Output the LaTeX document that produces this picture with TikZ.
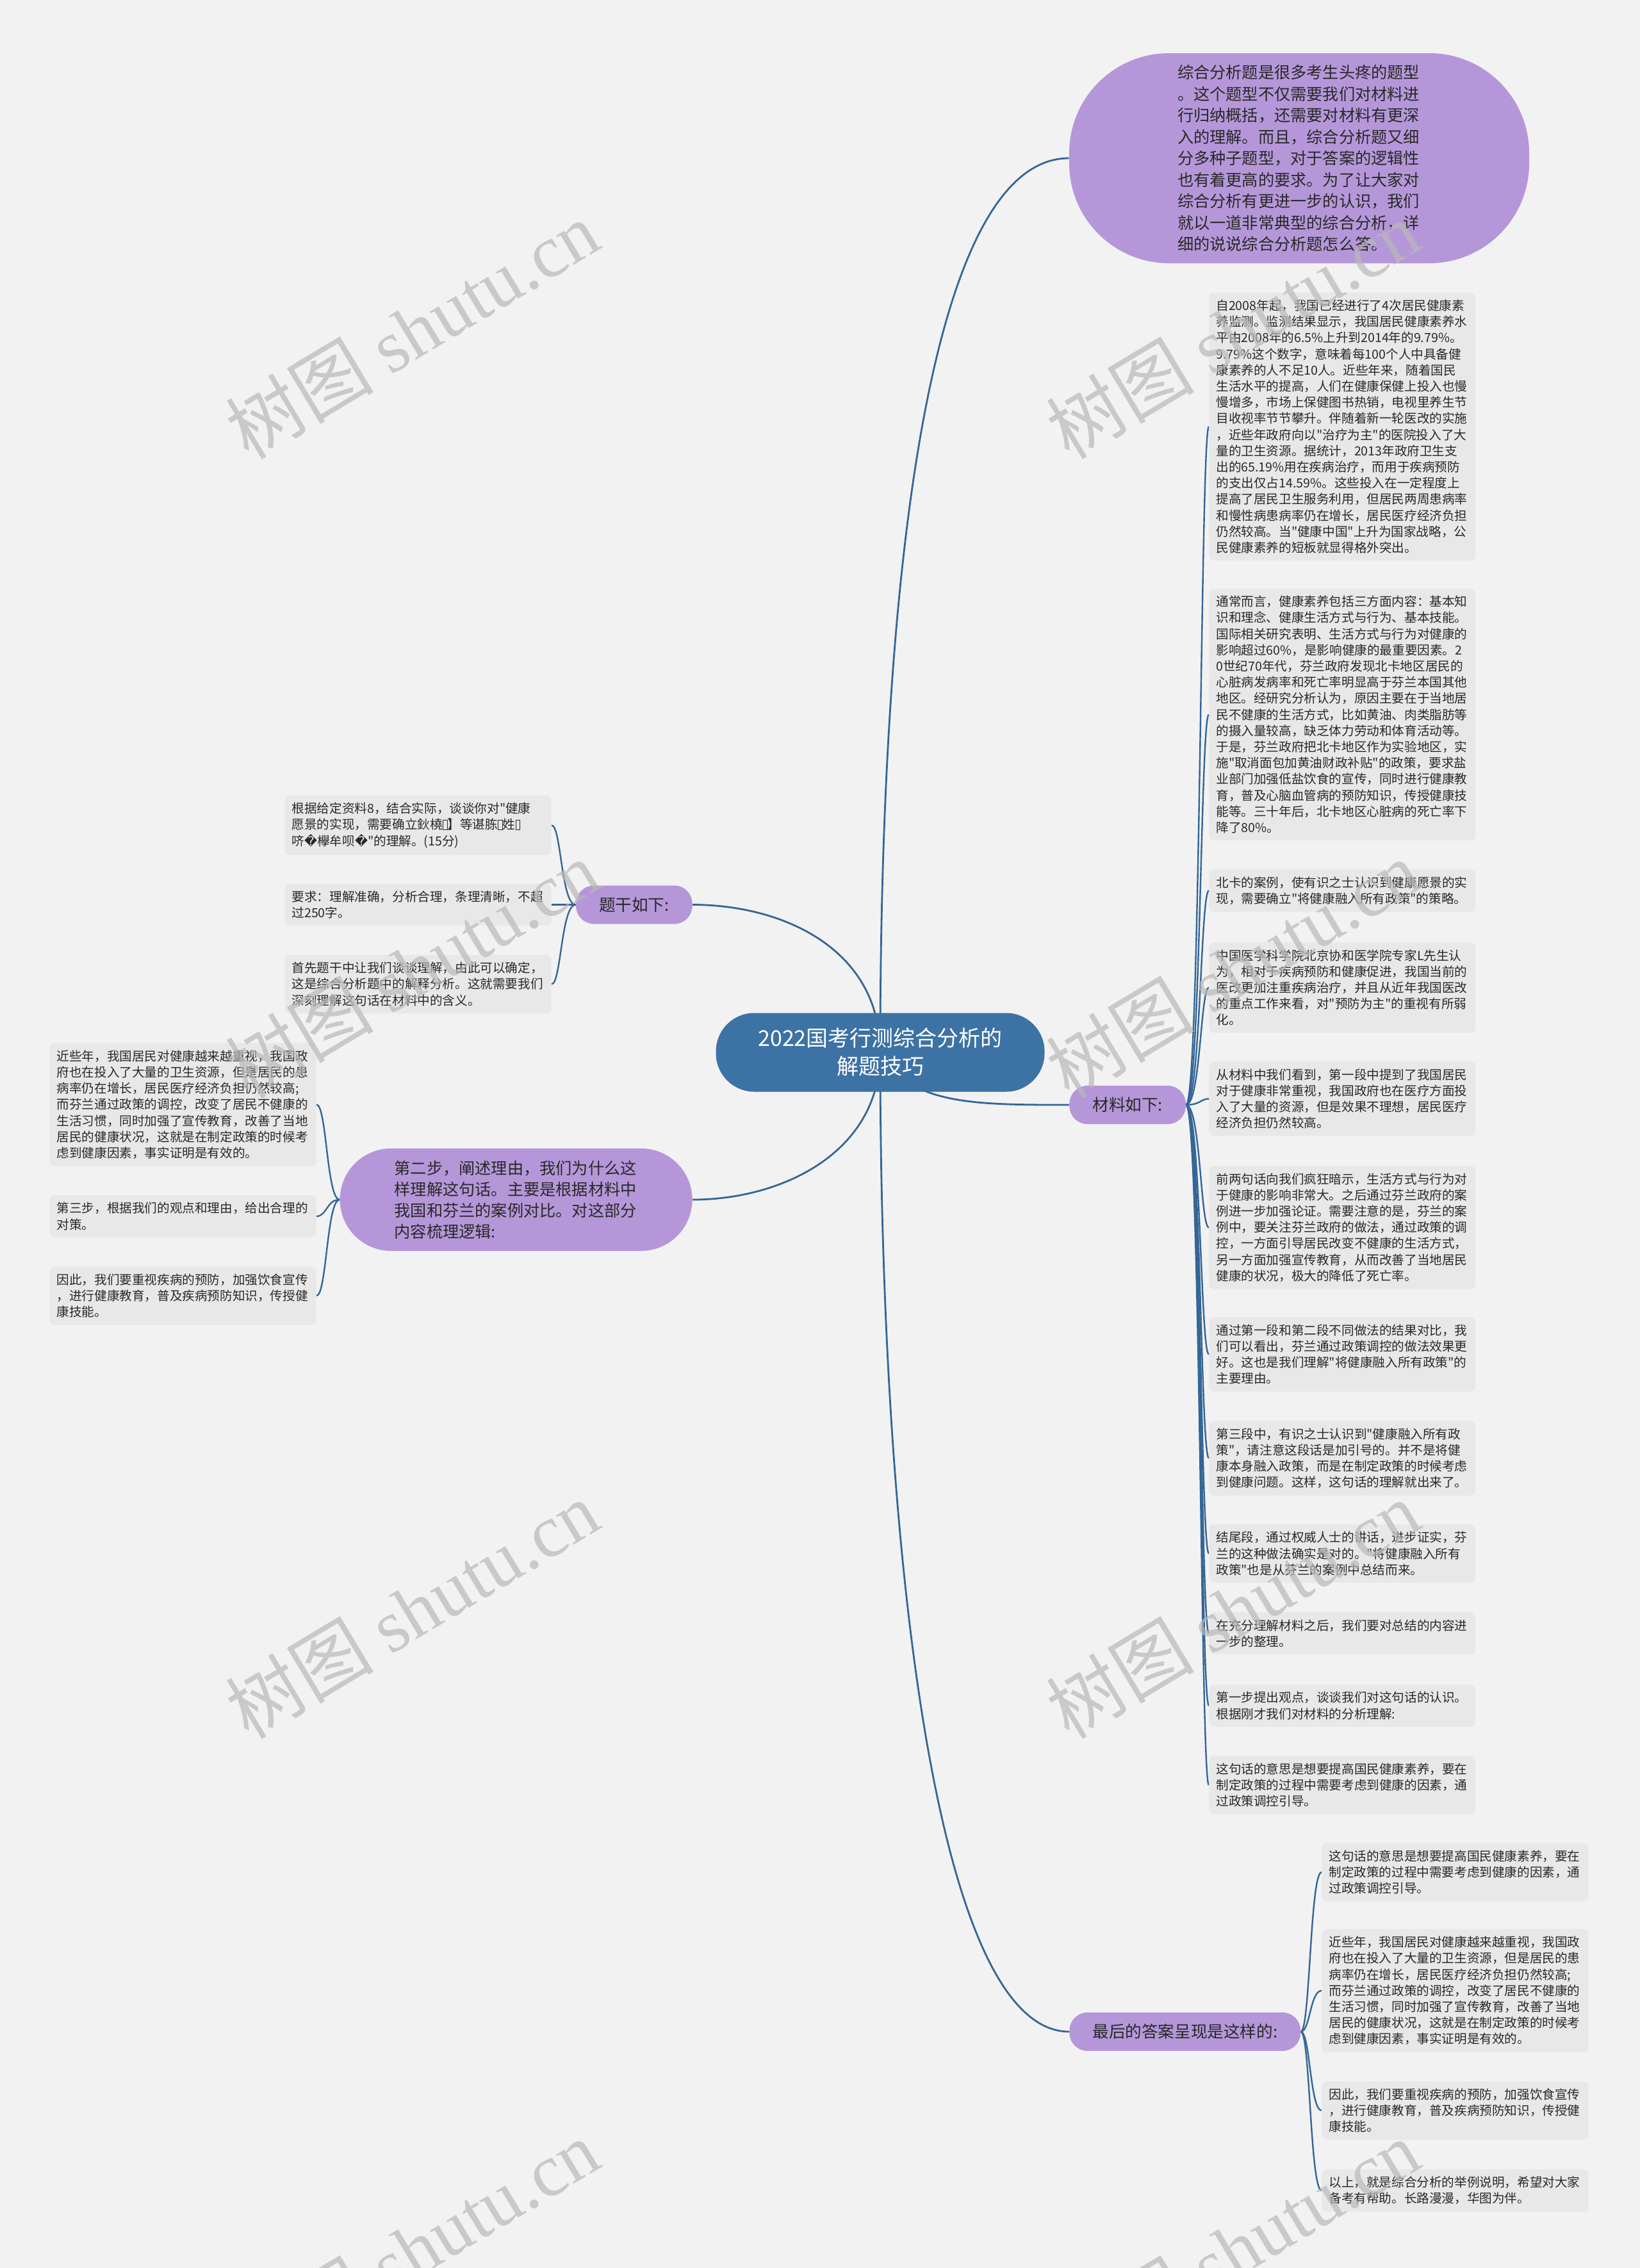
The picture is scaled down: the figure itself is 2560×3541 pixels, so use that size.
\documentclass[tikz,border=0pt]{standalone}
\usepackage{fontspec}
\setmainfont{Noto Sans CJK SC}[Ligatures=TeXOff]
\newfontfamily\wmserif{Liberation Serif}
\newfontfamily\symfont{DejaVu Sans}
\usetikzlibrary{backgrounds}
\definecolor{xBlue}{RGB}{61,114,164}
\definecolor{xLine}{RGB}{52,102,150}
\definecolor{xLav}{RGB}{181,151,217}
\definecolor{xLeaf}{RGB}{232,232,232}
\definecolor{xPage}{RGB}{242,242,242}
\definecolor{xInk}{RGB}{40,40,40}
\definecolor{xMark}{RGB}{185,185,185}
\newcommand{\nochar}{\begingroup\setlength{\fboxsep}{0pt}\setlength{\fboxrule}{0.5pt}\fbox{\rule{0pt}{0.72em}\hspace{0.3em}}\endgroup}
\newcommand{\badchar}{{\symfont �}}
\tikzset{
  rootnode/.style={fill=xBlue, text=white, rounded corners=30pt, align=center, font=\fontsize{17pt}{22pt}\selectfont,
                   minimum width=256.5pt, minimum height=61.5pt},
  bubble/.style={fill=xLav, text=xInk, rounded corners=78pt, align=left, text width=190pt, inner xsep=84.5pt,
                 minimum height=164pt, font=\fontsize{12.6pt}{16.75pt}\selectfont},
  topic/.style={fill=xLav, text=xInk, rounded corners=14pt, font=\fontsize{12.8pt}{15pt}\selectfont,
                inner xsep=18pt, minimum height=30pt},
  bigtopic/.style={topic, align=left, text width=190pt, inner xsep=42.5pt, minimum height=80pt, rounded corners=40pt,
                   font=\fontsize{12.6pt}{16.5pt}\selectfont},
  leaf/.style={fill=xLeaf, text=xInk, rounded corners=4pt, align=left, text width=197pt, inner xsep=5.5pt,
               inner ysep=5.6pt, font=\fontsize{9.8pt}{12.6pt}\selectfont},
  trunk/.style={xLine, line width=1.4pt},
  twig/.style={xLine, line width=1.2pt},
  wmark/.style={text=xMark, opacity=0.7, rotate=31, font=\fontsize{58pt}{60pt}\selectfont},
}
\begin{document}
\begin{tikzpicture}[x=0.5pt, y=-0.5pt]
  \useasboundingbox (0,0) rectangle (2560,3541);
  % main topics
  \node[rootnode] (root) at (1374,1643) {2022国考行测综合分析的\\解题技巧};
  \node[bubble] (intro) at (2028,247) {综合分析题是很多考生头疼的题型\\。这个题型不仅需要我们对材料进\\行归纳概括，还需要对材料有更深\\入的理解。而且，综合分析题又细\\分多种子题型，对于答案的逻辑性\\也有着更高的要求。为了让大家对\\综合分析有更进一步的认识，我们\\就以一道非常典型的综合分析，详\\细的说说综合分析题怎么答。};
  \node[topic, anchor=east] (tigan) at (1081,1412.5) {题干如下:};
  \node[topic, anchor=west] (cailiao) at (1669,1725) {材料如下:};
  \node[bigtopic, anchor=east] (step2) at (1081,1873) {第二步，阐述理由，我们为什么这\\样理解这句话。主要是根据材料中\\我国和芬兰的案例对比。对这部分\\内容梳理逻辑:};
  \node[topic, anchor=west] (final) at (1669,3172) {最后的答案呈现是这样的:};

  % 材料如下
  \node[leaf, anchor=west] (c1) at (1887,666) {自2008年起，我国已经进行了4次居民健康素\\养监测。监测结果显示，我国居民健康素养水\\平由2008年的6.5\%上升到2014年的9.79\%。\\9.79\%这个数字，意味着每100个人中具备健\\康素养的人不足10人。近些年来，随着国民\\生活水平的提高，人们在健康保健上投入也慢\\慢增多，市场上保健图书热销，电视里养生节\\目收视率节节攀升。伴随着新一轮医改的实施\\，近些年政府向以"治疗为主"的医院投入了大\\量的卫生资源。据统计，2013年政府卫生支\\出的65.19\%用在疾病治疗，而用于疾病预防\\的支出仅占14.59\%。这些投入在一定程度上\\提高了居民卫生服务利用，但居民两周患病率\\和慢性病患病率仍在增长，居民医疗经济负担\\仍然较高。当"健康中国"上升为国家战略，公\\民健康素养的短板就显得格外突出。};
  \node[leaf, anchor=west] (c2) at (1887,1115.5) {通常而言，健康素养包括三方面内容：基本知\\识和理念、健康生活方式与行为、基本技能。\\国际相关研究表明、生活方式与行为对健康的\\影响超过60\%，是影响健康的最重要因素。2\\0世纪70年代，芬兰政府发现北卡地区居民的\\心脏病发病率和死亡率明显高于芬兰本国其他\\地区。经研究分析认为，原因主要在于当地居\\民不健康的生活方式，比如黄油、肉类脂肪等\\的摄入量较高，缺乏体力劳动和体育活动等。\\于是，芬兰政府把北卡地区作为实验地区，实\\施"取消面包加黄油财政补贴"的政策，要求盐\\业部门加强低盐饮食的宣传，同时进行健康教\\育，普及心脑血管病的预防知识，传授健康技\\能等。三十年后，北卡地区心脏病的死亡率下\\降了80\%。};
  \node[leaf, anchor=west] (c3) at (1887,1390.5) {北卡的案例，使有识之士认识到健康愿景的实\\现，需要确立"将健康融入所有政策"的策略。};
  \node[leaf, anchor=west] (c4) at (1887,1542) {中国医学科学院北京协和医学院专家L先生认\\为，相对于疾病预防和健康促进，我国当前的\\医改更加注重疾病治疗，并且从近年我国医改\\的重点工作来看，对"预防为主"的重视有所弱\\化。};
  \node[leaf, anchor=west] (c5) at (1887,1715.5) {从材料中我们看到，第一段中提到了我国居民\\对于健康非常重视，我国政府也在医疗方面投\\入了大量的资源，但是效果不理想，居民医疗\\经济负担仍然较高。};
  \node[leaf, anchor=west] (c6) at (1887,1916.5) {前两句话向我们疯狂暗示，生活方式与行为对\\于健康的影响非常大。之后通过芬兰政府的案\\例进一步加强论证。需要注意的是，芬兰的案\\例中，要关注芬兰政府的做法，通过政策的调\\控，一方面引导居民改变不健康的生活方式，\\另一方面加强宣传教育，从而改善了当地居民\\健康的状况，极大的降低了死亡率。};
  \node[leaf, anchor=west] (c7) at (1887,2114.5) {通过第一段和第二段不同做法的结果对比，我\\们可以看出，芬兰通过政策调控的做法效果更\\好。这也是我们理解"将健康融入所有政策"的\\主要理由。};
  \node[leaf, anchor=west] (c8) at (1887,2276.5) {第三段中，有识之士认识到"健康融入所有政\\策"，请注意这段话是加引号的。并不是将健\\康本身融入政策，而是在制定政策的时候考虑\\到健康问题。这样，这句话的理解就出来了。};
  \node[leaf, anchor=west] (c9) at (1887,2425.5) {结尾段，通过权威人士的讲话，进步证实，芬\\兰的这种做法确实是对的。"将健康融入所有\\政策"也是从芬兰的案例中总结而来。};
  \node[leaf, anchor=west] (c10) at (1887,2550) {在充分理解材料之后，我们要对总结的内容进\\一步的整理。};
  \node[leaf, anchor=west] (c11) at (1887,2663) {第一步提出观点，谈谈我们对这句话的认识。\\根据刚才我们对材料的分析理解:};
  \node[leaf, anchor=west] (c12) at (1887,2787) {这句话的意思是想要提高国民健康素养，要在\\制定政策的过程中需要考虑到健康的因素，通\\过政策调控引导。};

  % 题干如下
  \node[leaf, anchor=east] (t1) at (861,1288.5) {根据给定资料8，结合实际，谈谈你对"健康\\愿景的实现，需要确立鈥橈\nochar】等谌胨\nochar 姓\nochar\\哜\badchar 欅牟呗\badchar"的理解。(15分)};
  \node[leaf, anchor=east] (t2) at (861,1412.5) {要求：理解准确，分析合理，条理清晰，不超\\过250字。};
  \node[leaf, anchor=east] (t3) at (861,1536.5) {首先题干中让我们谈谈理解，由此可以确定，\\这是综合分析题中的解释分析。这就需要我们\\深刻理解这句话在材料中的含义。};

  % 第二步
  \node[leaf, anchor=east] (s1) at (494,1724.5) {近些年，我国居民对健康越来越重视，我国政\\府也在投入了大量的卫生资源，但是居民的患\\病率仍在增长，居民医疗经济负担仍然较高;\\而芬兰通过政策的调控，改变了居民不健康的\\生活习惯，同时加强了宣传教育，改善了当地\\居民的健康状况，这就是在制定政策的时候考\\虑到健康因素，事实证明是有效的。};
  \node[leaf, anchor=east] (s2) at (494,1899) {第三步，根据我们的观点和理由，给出合理的\\对策。};
  \node[leaf, anchor=east] (s3) at (494,2023) {因此，我们要重视疾病的预防，加强饮食宣传\\，进行健康教育，普及疾病预防知识，传授健\\康技能。};

  % 最后的答案
  \node[leaf, anchor=west] (f1) at (2063,2923) {这句话的意思是想要提高国民健康素养，要在\\制定政策的过程中需要考虑到健康的因素，通\\过政策调控引导。};
  \node[leaf, anchor=west] (f2) at (2063,3108) {近些年，我国居民对健康越来越重视，我国政\\府也在投入了大量的卫生资源，但是居民的患\\病率仍在增长，居民医疗经济负担仍然较高;\\而芬兰通过政策的调控，改变了居民不健康的\\生活习惯，同时加强了宣传教育，改善了当地\\居民的健康状况，这就是在制定政策的时候考\\虑到健康因素，事实证明是有效的。};
  \node[leaf, anchor=west] (f3) at (2063,3295) {因此，我们要重视疾病的预防，加强饮食宣传\\，进行健康教育，普及疾病预防知识，传授健\\康技能。};
  \node[leaf, anchor=west] (f4) at (2063,3420) {以上，就是综合分析的举例说明，希望对大家\\备考有帮助。长路漫漫，华图为伴。};

  \coordinate (cl-trunk) at (1874,1725);
  \coordinate (tg-trunk) at (876,1412.5);
  \coordinate (s2-trunk) at (510,1873);
  \coordinate (fn-trunk) at (2045,3172);

  \begin{scope}[on background layer]
    \fill[xPage] (0,0) rectangle (2560,3541);
    \draw[trunk] (root.center) .. controls (1374,900) and (1450,247) .. (intro.west);
    \draw[trunk] (root.center) .. controls (1374,2390) and (1455,3172) .. (final.west);
    \draw[trunk] (root.center) .. controls (1420,1725) and (1520,1725) .. (cailiao.west);
    \draw[trunk] (root.center) .. controls (1374,1480) and (1220,1412.5) .. (tigan.east);
    \draw[trunk] (root.center) .. controls (1374,1800) and (1220,1873) .. (step2.east);
    \foreach \i in {1,...,12}
      \draw[twig] (cailiao.east) .. controls (cl-trunk) and (cl-trunk |- c\i.west) .. (c\i.west);
    \foreach \i in {1,2,3} {
      \draw[twig] (tigan.west) .. controls (tg-trunk) and (tg-trunk |- t\i.east) .. (t\i.east);
      \draw[twig] (step2.west) .. controls (s2-trunk) and (s2-trunk |- s\i.east) .. (s\i.east);
    }
    \foreach \i in {1,...,4}
      \draw[twig] (final.east) .. controls (fn-trunk) and (fn-trunk |- f\i.west) .. (f\i.west);
  \end{scope}

  % watermark
  \foreach \wx/\wn in {643/a,1924/b}
    \foreach \wy/\wm in {515/1,1513/2,2513/3,3511/4}
      \node[wmark] (wm-\wn\wm) at (\wx,\wy) {树图 {\wmserif shutu.cn}};
\end{tikzpicture}
\end{document}
